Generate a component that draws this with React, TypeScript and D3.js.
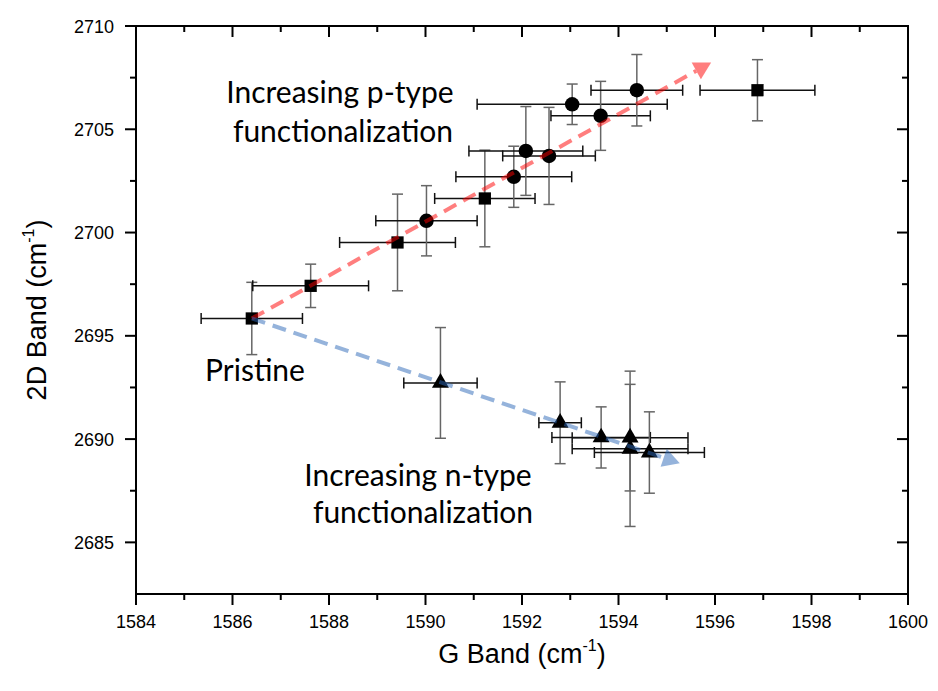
import React from 'react';
import * as d3 from 'd3';

// G band / 2D band positions (cm^-1) with error bars
const squareG = [1586.4, 1587.62, 1589.42, 1591.23, 1596.88];
const square2D = [2695.84, 2697.42, 2699.52, 2701.65, 2706.89];
const squareErrG = [1.05, 1.2, 1.2, 1.04, 1.19];
const squareErr2D = [1.75, 1.05, 2.34, 2.34, 1.48];

const circleG = [1590.02, 1591.83, 1592.08, 1592.56, 1593.04, 1593.63, 1594.38];
const circle2D = [2700.57, 2702.7, 2703.95, 2703.71, 2706.21, 2705.65, 2706.89];
const circleErrG = [1.05, 1.2, 1.18, 0.96, 1.97, 1.03, 0.95];
const circleErr2D = [1.7, 1.48, 2.15, 2.35, 0.98, 1.67, 1.73];

const triG = [1590.31, 1592.79, 1593.64, 1594.24, 1594.24, 1594.64];
const tri2D = [2692.72, 2690.79, 2690.08, 2690.07, 2689.53, 2689.35];
const triErrG = [0.76, 0.44, 1.02, 1.2, 1.2, 1.14];
const triErr2D = [2.68, 1.98, 1.48, 2.58, 3.76, 1.97];

// arrows: [start, end] in data units
const pArrow = [[1586.4, 2695.84], [1595.92, 2708.23]];
const nArrow = [[1586.4, 2695.84], [1595.27, 2688.83]];

const xMajor = [1584, 1586, 1588, 1590, 1592, 1594, 1596, 1598, 1600];
const xMinor = [1585, 1587, 1589, 1591, 1593, 1595, 1597, 1599];
const yMajor = [2685, 2690, 2695, 2700, 2705, 2710];
const yMinor = [2687.5, 2692.5, 2697.5, 2702.5, 2707.5];

const W = 938;
const H = 691;
const left = 136, right = 908, top = 26, bottom = 594;

const x = d3.scaleLinear().domain([1584, 1600]).range([left, right]);
const y = d3.scaleLinear().domain([2682.5, 2710]).range([bottom, top]);

const tickFont = "'Liberation Sans', Arial, sans-serif";
const noteFont = "Lato, 'Open Sans', sans-serif";

type Pt = { g: number; d: number; eg: number; ed: number };
const zip = (g: number[], d: number[], eg: number[], ed: number[]): Pt[] =>
  g.map((v, i) => ({ g: v, d: d[i], eg: eg[i], ed: ed[i] }));

const squares = zip(squareG, square2D, squareErrG, squareErr2D);
const circles = zip(circleG, circle2D, circleErrG, circleErr2D);
const triangles = zip(triG, tri2D, triErrG, triErr2D);
const allPts = [...squares, ...circles, ...triangles];

const symSquare = d3.symbol(d3.symbolSquare, 150)();
const symCircle = d3.symbol(d3.symbolCircle, 165)();
const symTri = d3.symbol(d3.symbolTriangle, 125)();

const ErrorBars = ({ p }: { p: Pt }) => {
  const cx = x(p.g), cy = y(p.d);
  const x0 = x(p.g - p.eg), x1 = x(p.g + p.eg);
  const y0 = y(p.d - p.ed), y1 = y(p.d + p.ed);
  const cap = 5.5;
  return (
    <g strokeWidth={1.5} fill="none">
      <g stroke="#666">
        <line x1={cx} x2={cx} y1={y0} y2={y1} />
        <line x1={cx - cap} x2={cx + cap} y1={y0} y2={y0} />
        <line x1={cx - cap} x2={cx + cap} y1={y1} y2={y1} />
      </g>
      <g stroke="#111">
        <line x1={x0} x2={x1} y1={cy} y2={cy} />
        <line x1={x0} x2={x0} y1={cy - cap} y2={cy + cap} />
        <line x1={x1} x2={x1} y1={cy - cap} y2={cy + cap} />
      </g>
    </g>
  );
};

const Arrow = ({ pts, color }: { pts: number[][]; color: string }) => {
  const sx = x(pts[0][0]), sy = y(pts[0][1]);
  const tx = x(pts[1][0]), ty = y(pts[1][1]);
  const len = Math.hypot(tx - sx, ty - sy);
  const ux = (tx - sx) / len, uy = (ty - sy) / len;
  const headLen = 17, headHalf = 9.5;
  const bx = tx - ux * headLen, by = ty - uy * headLen;
  const head = [
    [tx, ty],
    [bx - uy * headHalf, by + ux * headHalf],
    [bx + uy * headHalf, by - ux * headHalf],
  ].map(q => q.join(',')).join(' ');
  return (
    <g opacity={0.5}>
      <line x1={sx} y1={sy} x2={bx} y2={by} stroke={color} strokeWidth={4} strokeDasharray="14,8" />
      <polygon points={head} fill={color} />
    </g>
  );
};

export default function App() {
  return (
    <svg width={W} height={H} style={{ position: 'absolute', left: 0, top: 0, background: '#fff' }}>
      {/* error bars */}
      {allPts.map((p, i) => <ErrorBars key={i} p={p} />)}

      {/* markers */}
      {squares.map((p, i) => (
        <path key={'s' + i} d={symSquare} transform={`translate(${x(p.g)},${y(p.d)})`} fill="#000" />
      ))}
      {circles.map((p, i) => (
        <path key={'c' + i} d={symCircle} transform={`translate(${x(p.g)},${y(p.d)})`} fill="#000" />
      ))}
      {triangles.map((p, i) => (
        <path key={'t' + i} d={symTri} transform={`translate(${x(p.g)},${y(p.d)})`} fill="#000" />
      ))}

      {/* trend arrows */}
      <Arrow pts={pArrow} color="#ff0000" />
      <Arrow pts={nArrow} color="#2d69b9" />

      {/* frame */}
      <rect x={left} y={top} width={right - left} height={bottom - top} fill="none" stroke="#000" strokeWidth={2} />

      {/* ticks: outward on bottom/left, inward on top/right */}
      <g stroke="#000" strokeWidth={2}>
        {xMajor.map(v => (
          <g key={'xM' + v}>
            <line x1={x(v)} x2={x(v)} y1={bottom} y2={bottom + 11} />
            <line x1={x(v)} x2={x(v)} y1={top} y2={top + 11} />
          </g>
        ))}
        {xMinor.map(v => (
          <g key={'xm' + v}>
            <line x1={x(v)} x2={x(v)} y1={bottom} y2={bottom + 6} />
            <line x1={x(v)} x2={x(v)} y1={top} y2={top + 6} />
          </g>
        ))}
        {yMajor.map(v => (
          <g key={'yM' + v}>
            <line x1={left - 11} x2={left} y1={y(v)} y2={y(v)} />
            <line x1={right - 11} x2={right} y1={y(v)} y2={y(v)} />
          </g>
        ))}
        {yMinor.map(v => (
          <g key={'ym' + v}>
            <line x1={left - 6} x2={left} y1={y(v)} y2={y(v)} />
            <line x1={right - 6} x2={right} y1={y(v)} y2={y(v)} />
          </g>
        ))}
      </g>

      {/* tick labels */}
      <g fontFamily={tickFont} fontSize={18} fill="#000">
        {xMajor.map(v => (
          <text key={'xl' + v} x={x(v)} y={bottom + 34} textAnchor="middle">{v}</text>
        ))}
        {yMajor.map(v => (
          <text key={'yl' + v} x={left - 22} y={y(v) + 6.5} textAnchor="end">{v}</text>
        ))}
      </g>

      {/* axis titles */}
      <text x={(left + right) / 2} y={663} textAnchor="middle" fontFamily={tickFont} fontSize={27}>
        G Band (cm<tspan fontSize={16} dy={-12}>-1</tspan><tspan dy={12}>)</tspan>
      </text>
      <text transform={`translate(46,${(top + bottom) / 2}) rotate(-90)`} textAnchor="middle" fontFamily={tickFont} fontSize={27}>
        2D Band (cm<tspan fontSize={16} dy={-12}>-1</tspan><tspan dy={12}>)</tspan>
      </text>

      {/* annotations */}
      <g fontFamily={noteFont} fontSize={30} fill="#000" textAnchor="middle">
        <text x={340} y={103}>Increasing p-type</text>
        <text x={343} y={142}>functionalization</text>
        <text x={255} y={381}>Pristine</text>
        <text x={418} y={486}>Increasing n-type</text>
        <text x={423} y={523}>functionalization</text>
      </g>
    </svg>
  );
}
